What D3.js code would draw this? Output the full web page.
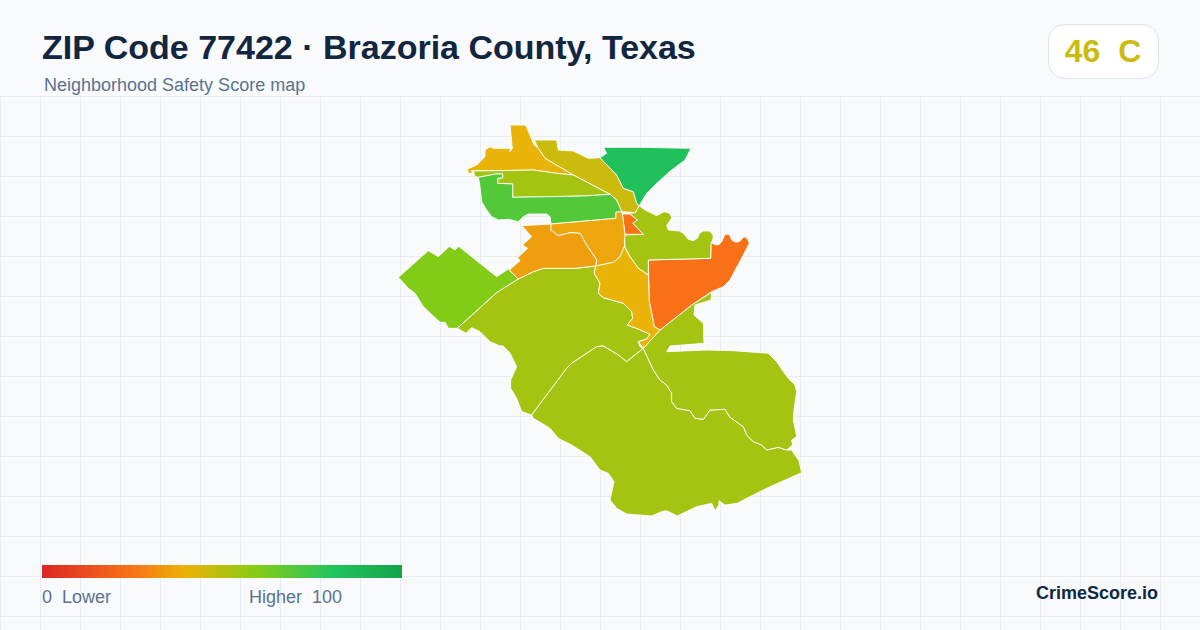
<!DOCTYPE html>
<html>
<head>
<meta charset="utf-8">
<script src="https://cdn.jsdelivr.net/npm/d3@7"></script>
<style>
  html, body { margin: 0; padding: 0; background: #f8fafc; }
  svg { display: block; }
  text { font-family: "Liberation Sans", Arial, sans-serif; }
</style>
</head>
<body>
<svg id="map" width="1200" height="630"></svg>
<script>
// scores for each tract
const tractNames = ["west", "westCentral", "south", "southEast", "bigOrange", "east", "smallOrange", "northBand", "topGreen", "northWest", "limeBand", "greenBand", "centre", "westOrange", "middle"]
const tractScores = [60.5, 54, 54, 54, 24.5, 54, 25, 46, 83, 40, 54, 70, 37, 35, 40]

// tract outlines, map units
const west = [[25,487],[115,407],[145,425],[178,394],[195,405],[206,394],[320,485],[355,462],[385,492],[320,533],[202,640],[175,640],[165,622],[150,622],[118,592],[100,575],[75,535],[55,520]]
const westCentral = [[385,492],[430,470],[460,460],[555,460],[617,453],[613,475],[630,505],[625,535],[640,548],[700,565],[725,590],[728,610],[712,630],[745,642],[780,658],[770,672],[745,680],[750,695],[760,700],[710,740],[685,720],[640,693],[620,695],[545,745],[530,760],[425,900],[395,890],[380,850],[362,820],[362,795],[380,755],[360,715],[340,693],[330,693],[300,680],[270,650],[245,638],[228,655],[202,640],[320,533]]
const south = [[425,900],[530,760],[545,745],[620,695],[640,693],[685,720],[710,740],[760,700],[790,765],[810,795],[830,810],[845,835],[845,860],[860,880],[900,887],[915,910],[940,913],[960,885],[1005,883],[1020,907],[1060,935],[1070,960],[1090,980],[1115,990],[1130,1005],[1165,997],[1190,1005],[1205,1005],[1215,1020],[1227,1037],[1235,1073],[1190,1093],[1130,1120],[1070,1150],[1042,1165],[1005,1170],[987,1157],[987,1170],[975,1187],[965,1165],[920,1175],[862,1203],[830,1187],[815,1190],[785,1203],[710,1197],[680,1180],[660,1155],[672,1100],[655,1075],[630,1065],[600,1025],[545,990],[505,970],[480,940],[430,910]]
const southEast = [[760,700],[810,645],[905,570],[965,532],[963,555],[915,570],[912,600],[940,625],[942,685],[840,693],[830,710],[950,705],[1030,707],[1135,715],[1160,740],[1180,770],[1195,790],[1215,810],[1220,830],[1212,885],[1210,915],[1220,965],[1205,975],[1208,990],[1190,1005],[1165,997],[1130,1005],[1115,990],[1090,980],[1070,960],[1060,935],[1020,907],[1005,883],[960,885],[940,913],[915,910],[900,887],[860,880],[845,860],[845,835],[830,810],[810,795],[790,765]]
const bigOrange = [[775,435],[962,430],[963,382],[972,388],[985,390],[995,380],[1005,358],[1018,358],[1025,375],[1038,382],[1050,378],[1062,365],[1072,370],[1078,385],[1060,420],[1020,495],[1000,515],[965,530],[905,570],[810,645],[793,635],[778,560]]
const east = [[748,272],[765,285],[800,302],[822,290],[838,294],[846,308],[830,332],[835,345],[868,348],[880,355],[895,373],[910,377],[922,370],[928,355],[940,348],[960,348],[970,362],[968,378],[963,382],[962,430],[775,435],[775,480],[745,460],[720,425],[705,395],[703,360],[760,358],[728,325],[742,315],[720,297],[715,295],[735,293]]
const smallOrange = [[697,297],[720,297],[742,315],[728,325],[760,358],[705,358]]
const northBand = [[433,75],[500,75],[505,105],[550,108],[595,130],[630,128],[680,180],[700,220],[730,230],[740,265],[748,272],[735,293],[695,290],[680,255],[660,238],[550,180],[465,130],[445,100]]
const topGreen = [[640,97],[765,97],[903,100],[885,135],[845,165],[800,205],[770,235],[748,272],[740,265],[730,230],[700,220],[680,180],[630,128],[650,115]]
const northWest = [[360,30],[407,30],[433,90],[445,100],[465,130],[550,180],[500,175],[430,165],[330,167],[245,167],[248,175],[235,175],[232,162],[260,150],[285,125],[285,105],[300,95],[310,100],[360,100],[360,110],[367,100]]
const limeBand = [[250,168],[330,167],[430,165],[500,175],[550,180],[660,238],[580,243],[368,247],[368,207],[323,205],[323,190],[338,188],[338,177],[318,177],[265,187],[255,185]]
const greenBand = [[265,187],[318,177],[338,177],[338,188],[323,190],[323,205],[368,207],[368,247],[580,243],[660,238],[680,255],[695,290],[678,292],[678,310],[483,327],[480,305],[470,297],[415,297],[400,305],[385,320],[355,313],[325,315],[305,305],[290,285],[275,260],[270,215]]
const centre = [[483,327],[678,310],[678,292],[695,290],[697,297],[705,358],[703,395],[690,425],[670,442],[617,453],[620,435],[590,390],[570,355],[540,353],[505,362],[482,345]]
const westOrange = [[395,332],[483,327],[482,345],[505,362],[540,353],[570,355],[590,390],[620,435],[617,453],[555,460],[460,460],[430,470],[385,492],[358,465],[390,437],[383,428],[413,400],[397,390],[425,365]]
const middle = [[617,453],[670,442],[690,425],[703,395],[720,425],[745,460],[775,480],[778,560],[793,635],[810,645],[760,700],[745,680],[770,672],[780,658],[745,642],[712,630],[728,610],[725,590],[700,565],[640,548],[625,535],[630,505],[613,475]]

const outlines = [west, westCentral, south, southEast, bigOrange, east, smallOrange, northBand, topGreen, northWest, limeBand, greenBand, centre, westOrange, middle]

// colour ramp
const rampStops = [0, 25, 40, 60, 80, 100]
const rampColors = ["#dc2626", "#f97316", "#eab308", "#84cc16", "#22c55e", "#16a34a"]

const zipScore = 46
const zipGrade = "C"

const svg = d3.select("#map")
const color = d3.scaleLinear().domain(rampStops).range(rampColors).interpolate(d3.interpolateRgb)

// map units are thirds of a pixel
const x = d3.scaleLinear().domain([0, 1140]).range([390, 770])
const y = d3.scaleLinear().domain([0, 720]).range([115, 355])

// background + grid
svg.append("rect").attr("width", 1200).attr("height", 630).attr("fill", "#f8fafc")
const grid = svg.append("g").attr("stroke", "#e6eef3").attr("stroke-width", 1)
grid.selectAll(".v").data(d3.range(0.5, 1200, 40)).enter().append("line")
  .attr("class", "v").attr("x1", d => d).attr("x2", d => d).attr("y1", 96).attr("y2", 630)
grid.selectAll(".h").data(d3.range(96.5, 630, 40)).enter().append("line")
  .attr("class", "h").attr("x1", 0).attr("x2", 1200).attr("y1", d => d).attr("y2", d => d)

// tracts
const line = d3.line().x(d => x(d[0])).y(d => y(d[1])).curve(d3.curveLinearClosed)
svg.append("g").selectAll("path")
  .data(tractNames)
  .enter().append("path")
  .attr("d", (d, i) => line(outlines[i]))
  .attr("fill", (d, i) => color(tractScores[i]))
  .attr("stroke", "#ffffff")
  .attr("stroke-width", 0.9)
  .attr("stroke-linejoin", "round")

// header
svg.append("text").attr("x", 42).attr("y", 59)
  .attr("font-size", 34).attr("font-weight", 700).attr("fill", "#12263f")
  .text("ZIP Code 77422 · Brazoria County, Texas")
svg.append("text").attr("x", 44).attr("y", 91)
  .attr("font-size", 18).attr("fill", "#5b7290")
  .text("Neighborhood Safety Score map")

// score badge
svg.append("rect").attr("x", 1048.5).attr("y", 24.5).attr("width", 110).attr("height", 54).attr("rx", 16)
  .attr("fill", "#ffffff").attr("stroke", "#dde3ec")
svg.append("text").attr("x", 1103).attr("y", 62).attr("text-anchor", "middle")
  .attr("font-size", 32).attr("font-weight", 700).attr("fill", color(zipScore))
  .style("white-space", "pre")
  .text(zipScore + "  " + zipGrade)

// legend
const legendX = d3.scaleLinear().domain([0, 100]).range([42, 402])
const grad = svg.append("defs").append("linearGradient").attr("id", "ramp")
grad.selectAll("stop").data(rampStops).enter().append("stop")
  .attr("offset", d => d + "%")
  .attr("stop-color", d => color(d))
svg.append("rect").attr("x", legendX(0)).attr("y", 565)
  .attr("width", legendX(100) - legendX(0)).attr("height", 13).attr("fill", "url(#ramp)")
svg.append("text").attr("x", 42).attr("y", 603).attr("font-size", 18).attr("fill", "#5b7290")
  .style("white-space", "pre").text("0  Lower")
svg.append("text").attr("x", 249).attr("y", 603).attr("font-size", 18).attr("fill", "#5b7290")
  .style("white-space", "pre").text("Higher  100")

svg.append("text").attr("x", 1158).attr("y", 599).attr("text-anchor", "end")
  .attr("font-size", 18).attr("font-weight", 700).attr("fill", "#0f2742")
  .text("CrimeScore.io")
</script>
</body>
</html>
